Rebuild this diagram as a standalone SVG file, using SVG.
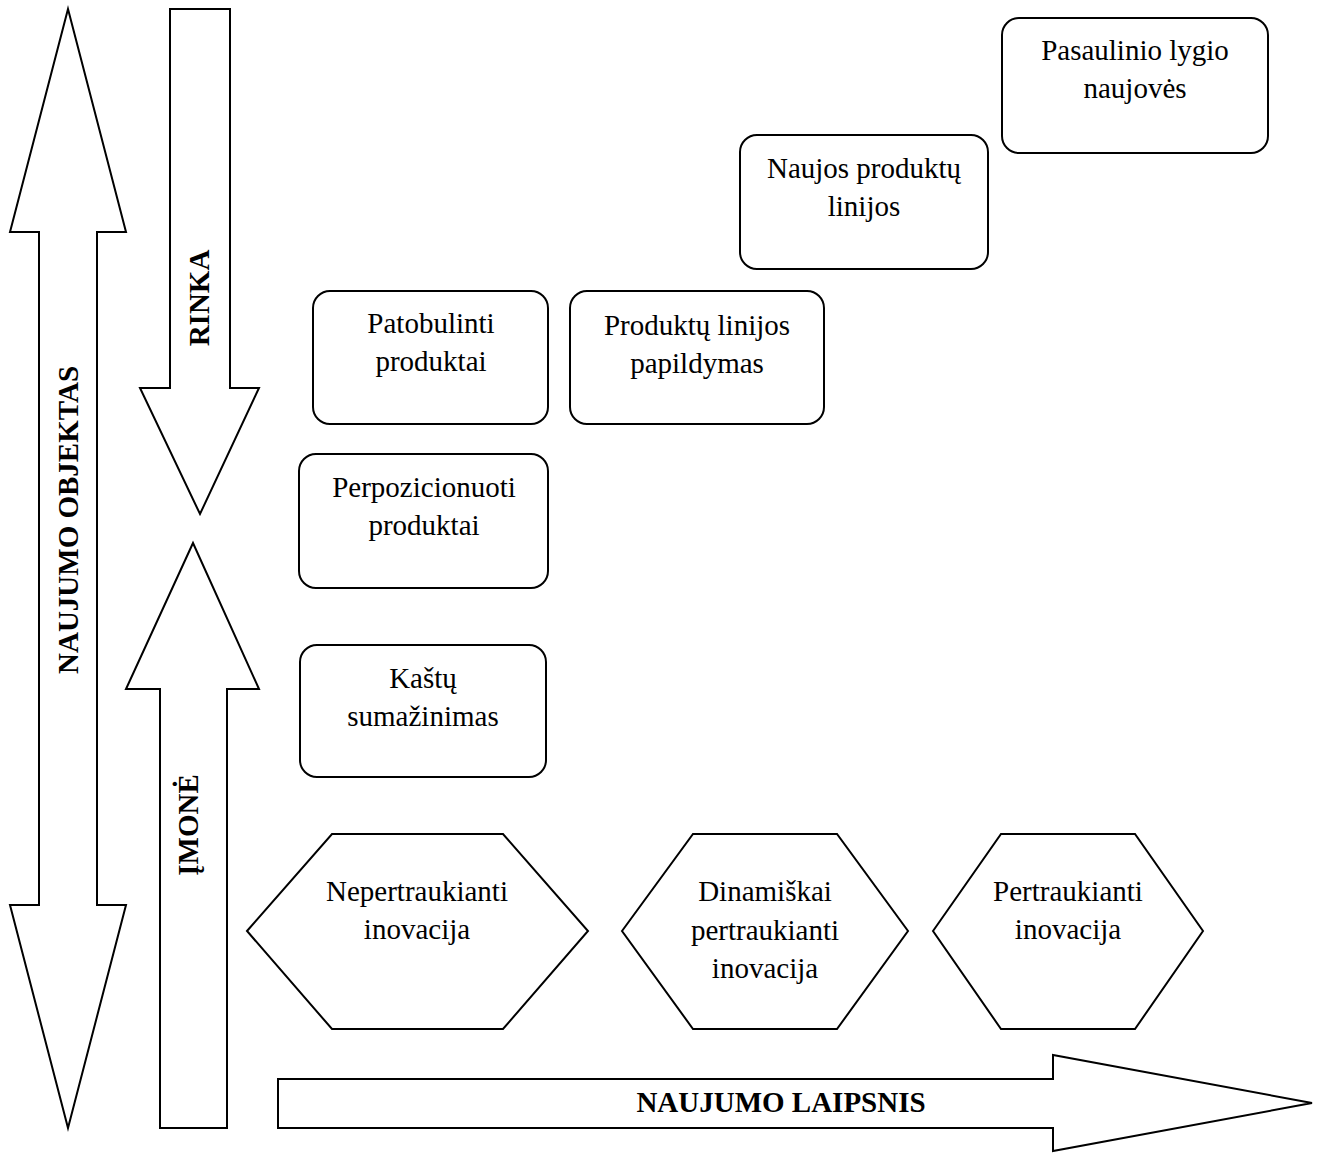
<svg xmlns="http://www.w3.org/2000/svg" width="1319" height="1153" viewBox="0 0 1319 1153">
<style>
.shape{fill:#fff;stroke:#000;stroke-width:2}
.arr{fill:#fff;stroke:#000;stroke-width:2;stroke-linejoin:miter}
.t{font-family:"Liberation Serif","Times New Roman",serif;font-size:29px;fill:#000;text-anchor:middle}
.b{font-family:"Liberation Serif","Times New Roman",serif;font-size:29px;font-weight:bold;fill:#000;text-anchor:middle}
</style>
<rect width="1319" height="1153" fill="#fff"/>
<g id="axes">
<g id="naujumo-objektas">
<polygon class="arr" points="68,9 126,232 97,232 97,905 126,905 68,1128 10,905 39,905 39,232 10,232"/>
<text class="b" transform="translate(78,520) rotate(-90)">NAUJUMO OBJEKTAS</text>
</g>
<g id="rinka">
<polygon class="arr" points="170,9 230,9 230,388 259,388 200,514 140,388 170,388"/>
<text class="b" transform="translate(209,298) rotate(-90)">RINKA</text>
</g>
<g id="imone">
<polygon class="arr" points="193,543 259,689 227,689 227,1128 160,1128 160,689 126,689"/>
<text class="b" transform="translate(198,825) rotate(-90)">ĮMONĖ</text>
</g>
<g id="naujumo-laipsnis">
<polygon class="arr" points="278,1079 1053,1079 1053,1055 1312,1103 1053,1151 1053,1128 278,1128"/>
<text class="b" x="781" y="1112">NAUJUMO LAIPSNIS</text>
</g>
</g>
<g id="connectors"></g>
<g id="pasaulinio">
<rect class="shape" x="1002" y="18" width="266" height="135" rx="17"/>
<text class="t" x="1135" y="60">Pasaulinio lygio</text>
<text class="t" x="1135" y="98">naujovės</text>
</g>
<g id="naujos">
<rect class="shape" x="740" y="135" width="248" height="134" rx="17"/>
<text class="t" x="864" y="178">Naujos produktų</text>
<text class="t" x="864" y="216">linijos</text>
</g>
<g id="patobulinti">
<rect class="shape" x="313" y="291" width="235" height="133" rx="17"/>
<text class="t" x="431" y="333">Patobulinti</text>
<text class="t" x="431" y="371">produktai</text>
</g>
<g id="papildymas">
<rect class="shape" x="570" y="291" width="254" height="133" rx="17"/>
<text class="t" x="697" y="335">Produktų linijos</text>
<text class="t" x="697" y="373">papildymas</text>
</g>
<g id="perpozicionuoti">
<rect class="shape" x="299" y="454" width="249" height="134" rx="17"/>
<text class="t" x="424" y="497">Perpozicionuoti</text>
<text class="t" x="424" y="535">produktai</text>
</g>
<g id="kastu">
<rect class="shape" x="300" y="645" width="246" height="132" rx="17"/>
<text class="t" x="423" y="688">Kaštų</text>
<text class="t" x="423" y="726">sumažinimas</text>
</g>
<g id="nepertraukianti">
<polygon class="shape" points="247,931 332,834 503,834 588,931 503,1029 332,1029"/>
<text class="t" x="417" y="901">Nepertraukianti</text>
<text class="t" x="417" y="939">inovacija</text>
</g>
<g id="dinamiskai">
<polygon class="shape" points="622,931 693,834 837,834 908,931 837,1029 693,1029"/>
<text class="t" x="765" y="901">Dinamiškai</text>
<text class="t" x="765" y="940">pertraukianti</text>
<text class="t" x="765" y="978">inovacija</text>
</g>
<g id="pertraukianti">
<polygon class="shape" points="933,931 1001,834 1135,834 1203,931 1135,1029 1001,1029"/>
<text class="t" x="1068" y="901">Pertraukianti</text>
<text class="t" x="1068" y="939">inovacija</text>
</g>
</svg>
